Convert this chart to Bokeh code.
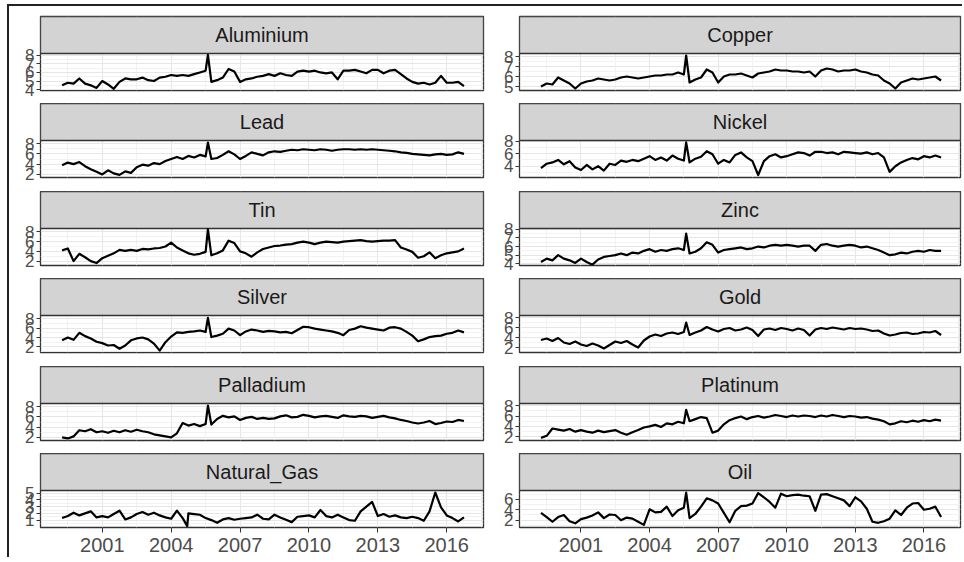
from bokeh.plotting import figure
from bokeh.models import Range1d, FixedTicker, Grid, Label, Spacer
from bokeh.layouts import column, row
from bokeh.embed import file_html
from bokeh.resources import INLINE

names = ["Aluminium", "Copper", "Lead", "Nickel", "Tin", "Zinc",
         "Silver", "Gold", "Palladium", "Platinum", "Natural_Gas", "Oil"]

# quarterly sampling dates 1999.25 ... 2016.75 (71 points)
quarters = [1999.25 + 0.25 * i for i in range(71)]

aluminium = [4.5, 4.8, 4.7,
             5.3, 4.7, 4.5, 4.2,  5.0, 4.6, 4.1, 4.9,  5.3, 5.2, 5.2, 5.4,
             5.1, 5.0, 5.4, 5.5,  5.7, 5.6, 5.7, 5.6,  5.8, 6.0, 6.2, 4.9,
             5.1, 5.4, 6.4, 6.1,  4.9, 5.2, 5.3, 5.5,  5.6, 5.8, 5.6, 5.9,
             5.7, 5.6, 6.1, 6.2,  6.1, 6.2, 6.0, 5.9,  6.0, 5.2, 6.2, 6.2,
             6.3, 6.1, 5.9, 6.3,  6.3, 5.9, 6.2, 6.3,  5.8, 5.3, 4.9, 4.7,
             4.8, 4.6, 4.8, 5.6,  4.8, 4.8, 4.9, 4.4]
copper = [5.0, 5.3, 5.2,
          5.9, 5.6, 5.3, 4.8,  5.3, 5.5, 5.6, 5.8,  5.7, 5.6, 5.7, 5.9,
          6.0, 5.9, 5.8, 5.9,  6.0, 6.1, 6.1, 6.2,  6.2, 6.4, 6.2, 5.4,
          5.7, 5.9, 6.7, 6.4,  5.4, 6.0, 6.2, 6.2,  6.3, 6.1, 5.9, 6.3,
          6.4, 6.5, 6.7, 6.6,  6.6, 6.5, 6.5, 6.4,  6.5, 6.0, 6.6, 6.8,
          6.7, 6.5, 6.6, 6.6,  6.7, 6.5, 6.4, 6.2,  6.1, 5.6, 5.3, 4.8,
          5.4, 5.6, 5.8, 5.7,  5.8, 5.9, 6.0, 5.6]
lead = [3.8, 4.3, 4.0,
        4.4, 3.6, 3.0, 2.5,  2.0, 2.8, 2.2, 1.9,  2.6, 2.3, 3.4, 3.9,
        3.7, 4.2, 4.0, 4.6,  5.0, 5.4, 5.0, 5.6,  5.3, 5.8, 5.5, 5.0,
        5.2, 5.8, 6.5, 5.9,  5.0, 5.6, 6.3, 6.0,  5.7, 6.3, 6.5, 6.4,
        6.6, 6.8, 6.7, 6.9,  6.8, 6.7, 6.9, 6.8,  6.6, 6.8, 6.9, 6.9,
        6.8, 6.9, 6.8, 6.9,  6.8, 6.7, 6.6, 6.5,  6.3, 6.2, 6.0, 5.9,
        5.8, 5.7, 5.9, 6.0,  5.8, 5.9, 6.3, 6.0]
nickel = [3.7, 4.4, 4.6,
          5.0, 4.3, 4.8, 3.8,  3.4, 4.2, 3.5, 4.0,  3.3, 4.4, 4.2, 4.9,
          4.7, 5.0, 4.8, 5.2,  5.6, 5.0, 5.4, 4.9,  5.7, 5.2, 4.9, 4.6,
          5.2, 5.5, 6.4, 5.9,  4.4, 5.0, 4.6, 5.8,  6.2, 5.4, 4.8, 2.6,
          4.8, 5.6, 5.9, 5.4,  5.6, 5.9, 6.2, 6.1,  5.7, 6.3, 6.3, 6.1,
          6.2, 5.9, 6.3, 6.2,  6.1, 6.0, 6.2, 5.9,  6.1, 5.4, 3.1, 4.0,
          4.6, 5.0, 5.3, 5.1,  5.6, 5.4, 5.7, 5.4]
tin = [4.2, 4.6, 2.0,
       3.5, 2.8, 2.0, 1.6,  2.6, 3.1, 3.6, 4.3,  4.1, 4.3, 4.1, 4.5,
       4.4, 4.6, 4.7, 5.0,  5.8, 4.8, 4.2, 3.6,  3.3, 3.5, 3.9, 3.2,
       3.6, 4.2, 6.2, 5.7,  4.0, 3.6, 2.9, 3.8,  4.5, 4.8, 5.1, 5.2,
       5.4, 5.5, 5.8, 6.0,  5.8, 5.5, 5.8, 6.0,  5.9, 5.8, 6.0, 6.1,
       6.2, 6.3, 6.1, 6.0,  6.1, 6.2, 6.2, 6.3,  4.8, 4.4, 3.9, 2.7,
       3.0, 3.8, 2.6, 3.2,  3.6, 3.8, 4.0, 4.6]
zinc = [4.2, 4.6, 4.4,
        5.0, 4.6, 4.4, 4.1,  4.6, 4.2, 3.9, 4.5,  4.8, 4.9, 5.0, 5.2,
        5.0, 5.3, 5.2, 5.5,  5.7, 5.4, 5.6, 5.5,  5.7, 5.8, 5.6, 5.2,
        5.4, 5.8, 6.5, 6.2,  5.3, 5.6, 5.7, 5.8,  5.9, 5.7, 5.8, 6.0,
        5.9, 6.1, 6.2, 6.1,  6.2, 6.1, 6.0, 6.1,  6.1, 5.5, 6.2, 6.3,
        6.1, 6.0, 6.1, 6.2,  6.1, 5.9, 6.0, 5.8,  5.6, 5.3, 5.0, 5.1,
        5.3, 5.2, 5.4, 5.5,  5.4, 5.6, 5.5, 5.5]
silver = [3.4, 4.0, 3.5,
          5.0, 4.3, 3.8, 3.1,  2.8, 2.3, 2.4, 1.6,  2.3, 3.4, 3.8, 4.0,
          3.6, 2.7, 1.2, 3.0,  4.2, 5.1, 5.0, 5.2,  5.3, 5.5, 5.2, 4.1,
          4.4, 4.8, 5.9, 5.5,  4.5, 5.3, 5.7, 5.5,  5.2, 5.4, 5.3, 5.1,
          5.2, 4.9, 5.6, 6.3,  6.2, 5.9, 5.7, 5.5,  5.3, 5.0, 4.5, 5.6,
          5.9, 6.4, 6.1, 5.9,  5.7, 5.5, 6.1, 6.2,  5.9, 5.2, 4.4, 3.2,
          3.6, 4.1, 4.3, 4.4,  4.8, 5.0, 5.5, 5.1]
gold = [3.5, 3.8, 3.3,
        3.9, 3.0, 2.7, 3.2,  2.6, 2.3, 2.8, 2.4,  1.8, 2.5, 3.2, 2.9,
        3.3, 2.6, 2.0, 3.4,  4.2, 4.6, 4.3, 4.8,  5.0, 4.7, 5.1, 4.5,
        5.0, 5.4, 6.1, 5.6,  5.2, 5.7, 5.9, 5.4,  5.6, 6.0, 5.5, 4.3,
        5.6, 5.8, 5.5, 5.9,  5.7, 5.4, 5.8, 5.5,  4.4, 5.6, 5.9, 5.7,
        6.0, 5.8, 5.6, 5.9,  5.7, 5.8, 5.6, 5.3,  5.4, 4.8, 4.4, 4.6,
        4.9, 5.0, 4.7, 4.8,  5.1, 5.0, 5.3, 4.5]
palladium = [2.0, 1.8, 2.2,
             3.4, 3.2, 3.6, 3.0,  3.2, 2.9, 3.3, 3.0,  3.4, 3.1, 3.5, 3.2,
             3.0, 2.6, 2.4, 2.2,  2.0, 2.8, 4.8, 4.3,  4.6, 4.2, 4.6, 4.5,
             5.6, 6.2, 5.9, 6.1,  5.4, 5.8, 6.0, 5.6,  5.8, 5.6, 5.7, 6.1,
             6.3, 5.9, 6.0, 6.4,  6.2, 5.9, 6.1, 6.2,  6.0, 5.8, 6.3, 6.1,
             6.0, 6.2, 6.1, 5.8,  6.0, 6.2, 5.9, 5.7,  5.4, 5.2, 4.9, 4.7,
             4.9, 5.2, 4.6, 4.8,  5.1, 5.0, 5.4, 5.2]
platinum = [1.8, 2.2, 3.6,
            3.4, 3.2, 3.5, 3.0,  3.3, 3.0, 2.8, 3.2,  2.9, 3.1, 3.3, 2.8,
            2.4, 2.9, 3.3, 3.8,  4.0, 4.3, 3.9, 4.6,  4.4, 4.9, 4.6, 5.0,
            5.4, 5.8, 5.6, 2.8,  3.2, 4.4, 5.2, 5.6,  5.9, 5.4, 5.8, 6.0,
            5.7, 5.9, 6.2, 6.0,  5.8, 6.1, 5.9, 6.1,  6.0, 5.8, 6.1, 5.9,
            6.2, 6.0, 5.8, 6.0,  5.9, 5.7, 5.8, 5.5,  5.3, 5.0, 4.4, 4.6,
            5.0, 4.8, 5.1, 4.9,  5.2, 5.0, 5.3, 5.1]
natural_gas = [1.3, 1.6, 2.1,
               1.7, 2.0, 2.3, 1.4,  1.6, 1.4, 1.9, 2.4,  1.1, 1.4, 1.9, 2.2,
               1.8, 2.1, 1.7, 1.4,  1.2, 2.4, 1.3, 2.0,  1.9, 1.8, 1.3, 1.0,
               0.6, 1.1, 1.3, 1.05, 1.2, 1.3, 1.4, 1.8,  1.2, 1.1, 1.8, 1.4,
               1.05, 0.7, 1.5, 1.6, 1.7, 1.4, 2.5, 1.6,  1.4, 1.8, 1.4, 1.0,
               0.9, 2.3, 3.0, 3.7,  1.6, 1.9, 1.5, 1.7,  1.4, 1.3, 1.5, 1.3,
               0.9, 2.3, 5.1, 2.9,  1.7, 1.3, 0.8, 1.4]
oil = [3.4, 2.6, 1.7,
       2.6, 3.0, 1.8, 1.4,  2.2, 2.5, 2.9, 3.5,  2.4, 3.1, 3.0, 2.0,
       2.5, 2.3, 1.7, 1.1,  4.1, 3.5, 3.6, 4.6,  2.8, 3.9, 4.4, 2.4,
       3.2, 4.6, 6.2, 5.8,  5.2, 3.4, 1.6, 3.8,  4.7, 4.8, 5.2, 7.2,
       6.4, 5.5, 4.4, 7.1,  6.6, 6.8, 6.9, 6.7,  6.6, 3.8, 6.9, 7.0,
       6.6, 6.2, 5.8, 4.7,  6.4, 5.6, 4.2, 1.7,  1.5, 1.8, 2.3, 3.9,
       3.0, 4.4, 5.2, 5.3,  4.0, 4.2, 4.6, 2.6]

series = [aluminium, copper, lead, nickel, tin, zinc,
          silver, gold, palladium, platinum, natural_gas, oil]

# one-off outliers visible as thin spikes
spike_dates = [2005.6] * 10 + [2004.7, 2005.6]
spike_values = [8.05, 8.1, 8.2, 7.8, 8.5, 7.5, 8.2, 7.0, 8.2, 7.2, 0.1, 7.3]

# per-panel y limits and tick values
y_limits = [(3.9, 8.2), (4.6, 8.3), (1.4, 8.6), (2.2, 8.1), (1.1, 8.7), (3.8, 8.1),
            (0.8, 8.7), (1.0, 8.4), (1.4, 8.6), (1.3, 8.4), (-0.1, 5.4), (0.6, 7.7)]
y_ticks = [[4, 5, 6, 7, 8], [5, 6, 7, 8], [2, 4, 6, 8], [4, 6, 8], [2, 4, 6, 8],
           [4, 5, 6, 7, 8], [2, 4, 6, 8], [2, 4, 6, 8], [2, 4, 6, 8], [2, 4, 6, 8],
           [1, 2, 3, 4, 5], [2, 4, 6]]

x_ticks = [2001, 2004, 2007, 2010, 2013, 2016]
x_minor = [1999.5, 2002.5, 2005.5, 2008.5, 2011.5, 2014.5, 2017.5]
x_limits = (1998.31, 2017.6)

FONT = "Liberation Sans"
STRIP_H, PANEL_H = 37, 37
TOP_PAD = 10
GAPS = [13, 14, 13, 14, 13]
AXIS_B = 30
WIDTHS = [476, 477]
LBORDER = [31, 34]
RBORDER = 2
DARK = "#333333"


def minor_of(ticks, lo, hi):
    if len(ticks) < 2:
        return []
    step = ticks[1] - ticks[0]
    cand = [ticks[0] - step / 2] + [t + step / 2 for t in ticks]
    return [c for c in cand if lo <= c <= hi]


def make_facet(i, col, r):
    last = r == 5
    top = TOP_PAD if r == 0 else 0
    bottom = AXIS_B if last else GAPS[r]
    lo, hi = y_limits[i]
    # the grey strip sits on top of the data area inside the same frame
    y_top = hi + (hi - lo) * STRIP_H / PANEL_H
    p = figure(width=WIDTHS[col], height=top + STRIP_H + PANEL_H + bottom,
               output_backend="svg", toolbar_location=None,
               x_range=Range1d(*x_limits), y_range=Range1d(lo, y_top),
               x_axis_location="below" if last else None, y_axis_location="left",
               min_border_left=LBORDER[col], min_border_right=RBORDER,
               min_border_top=top, min_border_bottom=bottom)
    p.grid.visible = False
    p.background_fill_color = "white"
    p.border_fill_color = "white"
    p.outline_line_color = DARK
    p.outline_line_width = 1.3

    ym = minor_of(y_ticks[i], lo, hi)
    p.add_layout(Grid(dimension=0, ticker=FixedTicker(ticks=x_ticks, minor_ticks=x_minor),
                      grid_line_color="#E6E6E6", grid_line_width=1.1,
                      minor_grid_line_color="#EFEFEF", minor_grid_line_width=0.8), "center")
    p.add_layout(Grid(dimension=1, ticker=FixedTicker(ticks=y_ticks[i], minor_ticks=ym),
                      grid_line_color="#E6E6E6", grid_line_width=1.1,
                      minor_grid_line_color="#EFEFEF", minor_grid_line_width=0.8), "center")

    ax = p.yaxis[0]
    ax.ticker = FixedTicker(ticks=y_ticks[i])
    ax.axis_line_color = None
    ax.major_tick_line_color = DARK
    ax.major_tick_in = 0
    ax.major_tick_out = 4
    ax.minor_tick_line_color = None
    ax.major_label_standoff = 2
    ax.major_label_text_font = FONT
    ax.major_label_text_font_size = "17px"
    ax.major_label_text_color = "#4D4D4D"
    if last:
        xa = p.xaxis[0]
        xa.ticker = FixedTicker(ticks=x_ticks)
        xa.axis_line_color = None
        xa.major_tick_line_color = DARK
        xa.major_tick_in = 0
        xa.major_tick_out = 5
        xa.minor_tick_line_color = None
        xa.major_label_standoff = 5
        xa.major_label_text_font = FONT
        xa.major_label_text_font_size = "20px"
        xa.major_label_text_color = "#4D4D4D"

    # strip
    p.quad(left=[x_limits[0]], right=[x_limits[1]], bottom=[hi], top=[y_top],
           fill_color="#D3D3D3", line_color=DARK, line_width=1.3)
    p.add_layout(Label(x=(x_limits[0] + x_limits[1]) / 2, y=(hi + y_top) / 2, text=names[i],
                       text_align="center", text_baseline="middle",
                       text_font=FONT, text_font_size="20px", text_color="#1A1A1A"))

    vals = series[i]
    sd, sv = spike_dates[i], spike_values[i]
    xs, ys = [], []
    inserted = False
    for t, v in zip(quarters, vals):
        if not inserted and t > sd:
            xs.append(sd)
            ys.append(sv)
            inserted = True
        xs.append(t)
        ys.append(v)
    p.line(xs, ys, line_color="black", line_width=2.2, line_join="round")
    return p


rows = []
for r in range(6):
    rows.append(row(*[make_facet(r * 2 + c, c, r) for c in range(2)]))

inner = column(*rows, styles={"border-left": "2px solid #222222",
                              "border-top": "2px solid #222222"})
layout = column(Spacer(height=4), row(Spacer(width=7), inner))

open("out.html", "w").write(file_html(layout, INLINE))
